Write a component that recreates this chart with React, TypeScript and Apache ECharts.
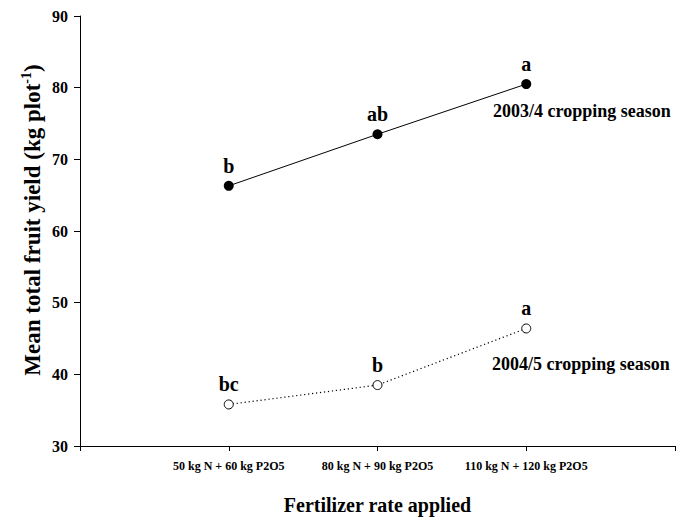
import React, { useEffect, useRef } from "react";
import * as echarts from "echarts";

const categories = ["50 kg N + 60 kg P2O5", "80 kg N + 90 kg P2O5", "110 kg N + 120 kg P2O5"];
const season1Values = [66.3, 73.5, 80.5];
const season1Letters = ["b", "ab", "a"];
const season2Values = [35.8, 38.5, 46.4];
const season2Letters = ["bc", "b", "a"];
const seasonNames = ["2003/4 cropping season", "2004/5 cropping season"];

const FONT = "'Liberation Serif', 'Times New Roman', serif";

export default function App() {
  const ref = useRef<HTMLDivElement>(null);
  useEffect(() => {
    if (!ref.current) return;
    const chart = echarts.init(ref.current, undefined, { renderer: "svg" });
    const toData = (vals: number[]) => vals.map((v, i) => [i + 1, v]);
    const labelStyle = (letters: string[]) => ({
      show: true,
      position: "top" as const,
      distance: 5,
      color: "#000",
      fontFamily: FONT,
      fontWeight: "bold" as const,
      fontSize: 20,
      formatter: (p: any) => letters[p.dataIndex],
    });
    chart.setOption({
      animation: false,
      backgroundColor: "#fff",
      grid: { left: 80, top: 16, width: 604, height: 430, containLabel: false },
      xAxis: {
        type: "value",
        min: 0,
        max: 4,
        interval: 1,
        name: "Fertilizer rate applied",
        nameLocation: "middle",
        nameGap: 49,
        nameTextStyle: { fontFamily: FONT, fontWeight: "bold", fontSize: 20, color: "#000" },
        axisLine: { lineStyle: { color: "#000", width: 1 } },
        axisTick: { show: true, length: 5, lineStyle: { color: "#000" } },
        axisLabel: {
          margin: 14,
          fontFamily: FONT,
          fontWeight: "bold",
          fontSize: 12,
          color: "#000",
          formatter: (v: number) => categories[v - 1] ?? "",
        },
        splitLine: { show: false },
      },
      yAxis: {
        type: "value",
        min: 30,
        max: 90,
        interval: 10,
        axisLine: { show: true, lineStyle: { color: "#000", width: 1 } },
        axisTick: { show: true, length: 6, lineStyle: { color: "#000" } },
        axisLabel: { margin: 12, fontFamily: FONT, fontWeight: "bold", fontSize: 16, color: "#000" },
        splitLine: { show: false },
      },
      series: [
        {
          type: "line",
          data: toData(season1Values),
          symbol: "circle",
          symbolSize: 10,
          itemStyle: { color: "#000" },
          lineStyle: { color: "#000", width: 1 },
          label: labelStyle(season1Letters),
        },
        {
          type: "line",
          data: toData(season2Values),
          symbol: "circle",
          symbolSize: 9,
          itemStyle: { color: "#fff", borderColor: "#000", borderWidth: 1 },
          lineStyle: { color: "#000", width: 1.2, type: [1.2, 2.8] },
          label: labelStyle(season2Letters),
        },
      ],
      graphic: [
        {
          type: "text",
          x: 32,
          y: 220,
          rotation: Math.PI / 2,
          style: {
            text: "{t|Mean total fruit yield (kg plot}{s|-1}{t|)}",
            align: "center",
            verticalAlign: "middle",
            rich: {
              t: { fontFamily: FONT, fontWeight: "bold", fontSize: 23, fill: "#000", lineHeight: 26 },
              s: { fontFamily: FONT, fontWeight: "bold", fontSize: 14, fill: "#000", verticalAlign: "top", lineHeight: 26, padding: [0, 0, 9, 0] },
            },
          },
        },
        {
          type: "text",
          left: 493,
          top: 102,
          style: { text: seasonNames[0], fontFamily: FONT, fontWeight: "bold", fontSize: 18, fill: "#000" },
        },
        {
          type: "text",
          left: 492,
          top: 355,
          style: { text: seasonNames[1], fontFamily: FONT, fontWeight: "bold", fontSize: 18, fill: "#000" },
        },
      ],
    });
    return () => chart.dispose();
  }, []);
  return <div ref={ref} style={{ width: 678, height: 524, position: "absolute", left: 0, top: 0 }} />;
}
